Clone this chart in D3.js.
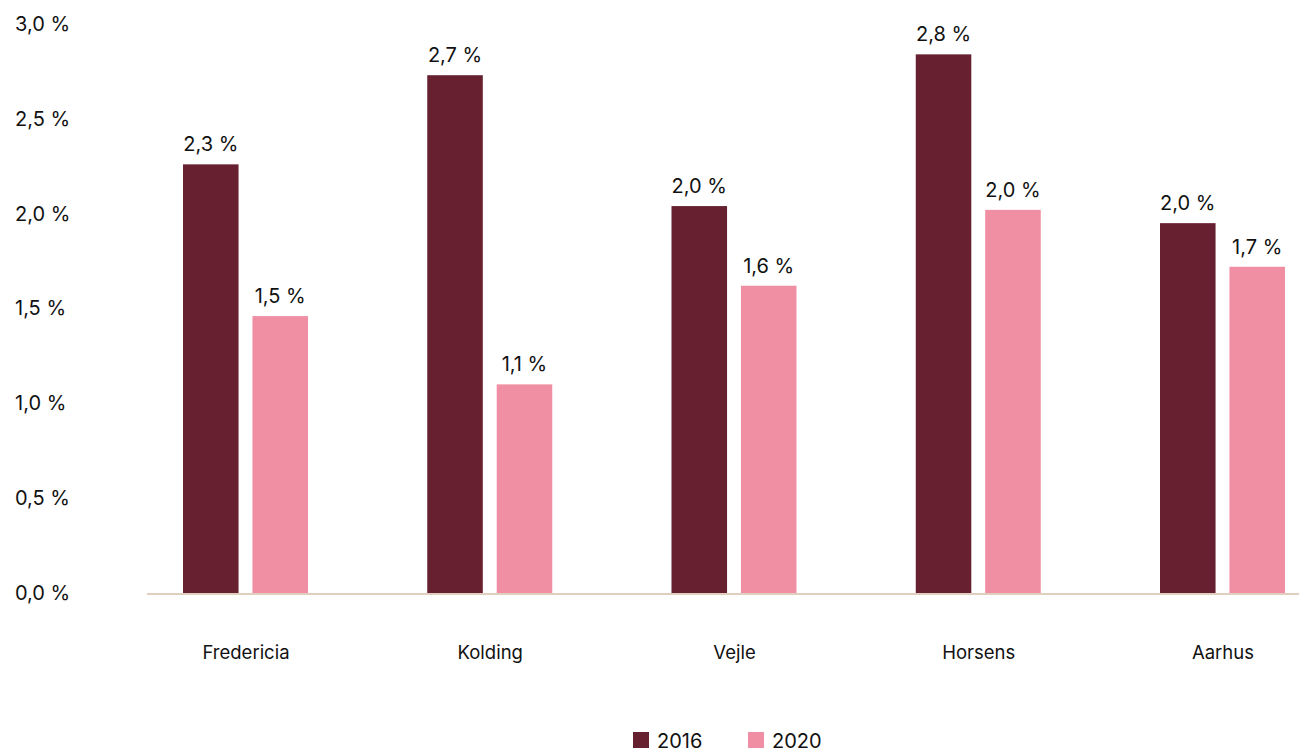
<!DOCTYPE html>
<html><head><meta charset="utf-8">
<script src="https://cdn.jsdelivr.net/npm/d3@7"></script>
<style>body{margin:0;background:#fff}svg{display:block;font-family:Inter, "Noto Sans", sans-serif}</style>
</head><body><svg id="c" width="1299" height="752"></svg>
<script>
const categories = ["Fredericia","Kolding","Vejle","Horsens","Aarhus"];
const seriesNames = ["2016","2020"];
const values2016 = [2.26, 2.73, 2.04, 2.84, 1.95];
const values2020 = [1.46, 1.10, 1.62, 2.02, 1.72];
const yTicks = [0, 0.5, 1.0, 1.5, 2.0, 2.5, 3.0];
const colors = ["#662030", "#f08fa3"];

const svg = d3.select("#c");
const fmt = v => d3.format(".1f")(v + 1e-9).replace(".", ",") + " %";
const y = d3.scaleLinear().domain([0, 3]).range([593, 24]);
const x = d3.scalePoint().domain(categories).range([245.5, 1222.5]);
const xs = d3.scaleBand().domain(seriesNames).range([-62.5, 62.5]).paddingInner(0.2);

// y tick labels
const yAxis = d3.axisLeft(y).tickValues(yTicks).tickFormat(fmt).tickSize(0).tickPadding(0);
const ga = svg.append("g").attr("transform", "translate(15,0)").call(yAxis);
ga.select(".domain").remove();
ga.selectAll("text").attr("text-anchor", "start").attr("font-size", 20).attr("fill", "#111").attr("font-family", "Inter, sans-serif");

// baseline
svg.append("line").attr("x1", 147).attr("x2", 1299).attr("y1", y(0) + 1).attr("y2", y(0) + 1)
  .attr("stroke", "#e0cfbe").attr("stroke-width", 2);

const data = categories.map((c, i) => ({c, vals: [values2016[i], values2020[i]]}));
const g = svg.selectAll("g.grp").data(data).join("g").attr("class", "grp")
  .attr("transform", d => `translate(${x(d.c)},0)`);
g.selectAll("rect").data(d => d.vals.map((v, j) => ({s: seriesNames[j], v, j})))
  .join("rect")
  .attr("x", d => xs(d.s)).attr("width", xs.bandwidth())
  .attr("y", d => y(d.v)).attr("height", d => y(0) - y(d.v))
  .attr("fill", d => colors[d.j]);
g.selectAll("text.val").data(d => d.vals.map((v, j) => ({s: seriesNames[j], v, j})))
  .join("text").attr("class", "val")
  .attr("x", d => xs(d.s) + xs.bandwidth() / 2).attr("y", d => y(d.v) - 13)
  .attr("text-anchor", "middle").attr("font-size", 20).attr("fill", "#111")
  .text(d => fmt(d.v));

// x axis labels
const xAxis = d3.axisBottom(x).tickSize(0).tickPadding(0);
const gx = svg.append("g").attr("transform", "translate(0,646)").call(xAxis);
gx.select(".domain").remove();
gx.selectAll("text").attr("font-size", 18.5).attr("fill", "#111").attr("font-family", "Inter, sans-serif");

// legend
const legX = [633, 748];
const lg = svg.selectAll("g.leg").data(seriesNames).join("g").attr("class", "leg")
  .attr("transform", (d, i) => `translate(${legX[i]},732)`);
lg.append("rect").attr("width", 16).attr("height", 16).attr("fill", (d, i) => colors[i]);
lg.append("text").attr("x", 24).attr("y", 15.5).attr("font-size", 20).attr("fill", "#111").text(d => d);
</script></body></html>
